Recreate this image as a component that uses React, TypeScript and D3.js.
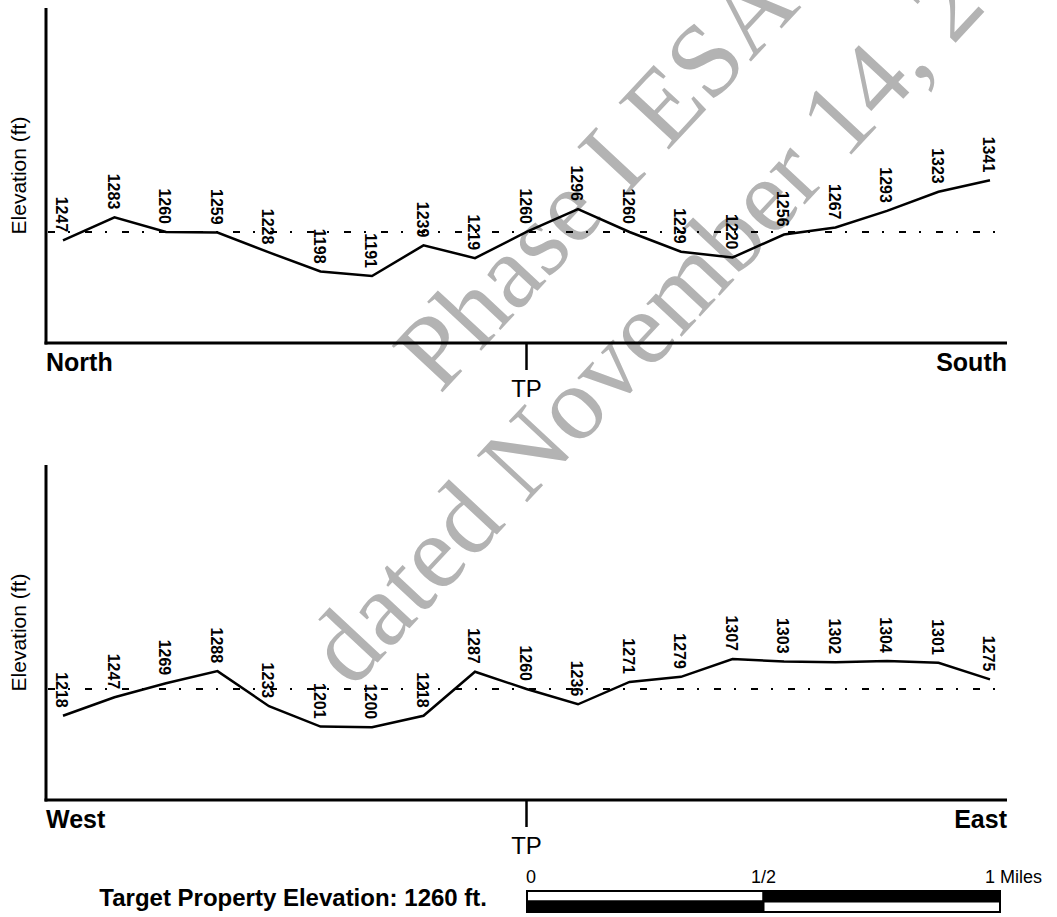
import React from "react";
import * as d3 from "d3";

const northSouth = [1247, 1283, 1260, 1259, 1228, 1198, 1191, 1239, 1219, 1260, 1296, 1260, 1229, 1220, 1256, 1267, 1293, 1323, 1341];
const westEast = [1218, 1247, 1269, 1288, 1233, 1201, 1200, 1218, 1287, 1260, 1236, 1271, 1279, 1307, 1303, 1302, 1304, 1301, 1275];
const targetElevation = 1260;
const elevationDomain = [1086, 1611];
const scaleMiles = [0, 0.5, 1];
const scaleLabels = ["0", "1/2", "1 Miles"];
const watermarkLines = ["Phase I ESA 2023", "dated November 14, 2023"];

const SANS = "'Liberation Sans', Arial, Helvetica, sans-serif";
const SERIF = "'Liberation Serif', 'Times New Roman', serif";

const W = 1057;
const H = 917;

function Profile({ data, top, bottom, startLabel, endLabel }) {
  const x = d3.scaleLinear().domain([0, data.length - 1]).range([63, 990]);
  const y = d3.scaleLinear().domain(elevationDomain).range([bottom, top]);
  const line = d3.line().x((d, i) => x(i)).y((d) => y(d));
  const axisLeft = 46;
  const axisRight = 1007;
  const tpIndex = Math.floor(data.length / 2);
  const tpX = x(tpIndex);
  const yT = y(targetElevation);
  return (
    <g>
      <line x1={axisLeft} x2={axisLeft} y1={top} y2={bottom + 1.5} stroke="#000" strokeWidth={3} />
      <line x1={axisLeft - 1.5} x2={axisRight} y1={bottom} y2={bottom} stroke="#000" strokeWidth={3} />
      <line x1={48} x2={1004} y1={yT} y2={yT} stroke="#000" strokeWidth={2} strokeDasharray="7,13,2,15" />
      <path d={line(data)} fill="none" stroke="#000" strokeWidth={2.5} strokeLinejoin="miter" />
      {data.map((d, i) => (
        <text
          key={i}
          transform={`translate(${x(i) - 7},${y(d) - 8}) rotate(90)`}
          textAnchor="end"
          fontFamily={SANS}
          fontWeight="bold"
          fontSize={16}
          fill="#000"
        >
          {d}
        </text>
      ))}
      <text
        transform={`translate(26,${(top + bottom) / 2}) rotate(-90)`}
        textAnchor="middle"
        fontFamily={SANS}
        fontSize={21}
        fill="#000"
      >
        Elevation (ft)
      </text>
      <text x={axisLeft} y={bottom + 28} fontFamily={SANS} fontWeight="bold" fontSize={25} fill="#000">
        {startLabel}
      </text>
      <text x={axisRight} y={bottom + 28} textAnchor="end" fontFamily={SANS} fontWeight="bold" fontSize={25} fill="#000">
        {endLabel}
      </text>
      <line x1={tpX} x2={tpX} y1={bottom} y2={bottom + 27} stroke="#000" strokeWidth={2.5} />
      <text x={tpX} y={bottom + 54} textAnchor="middle" fontFamily={SANS} fontSize={24} fill="#000">
        TP
      </text>
    </g>
  );
}

function ScaleBar() {
  const sx = d3.scaleLinear().domain([0, 1]).range([527, 1000]);
  const y0 = 891;
  const h = 10.5;
  return (
    <g>
      <rect x={sx(0)} y={y0} width={sx(0.5) - sx(0)} height={h} fill="#fff" stroke="#000" strokeWidth={2} />
      <rect x={sx(0.5)} y={y0} width={sx(1) - sx(0.5)} height={h} fill="#000" stroke="#000" strokeWidth={2} />
      <rect x={sx(0)} y={y0 + h} width={sx(0.5) - sx(0)} height={h} fill="#000" stroke="#000" strokeWidth={2} />
      <rect x={sx(0.5)} y={y0 + h} width={sx(1) - sx(0.5)} height={h} fill="#fff" stroke="#000" strokeWidth={2} />
      {scaleMiles.map((m, i) => {
        const last = i === scaleMiles.length - 1;
        return (
          <text
            key={i}
            x={i === 0 ? sx(m) - 1 : last ? 1042 : sx(m)}
            y={883}
            textAnchor={i === 0 ? "start" : last ? "end" : "middle"}
            fontFamily={SANS}
            fontSize={18}
            fill="#000"
          >
            {scaleLabels[i]}
          </text>
        );
      })}
      <text x={487} y={906} textAnchor="end" fontFamily={SANS} fontWeight="bold" fontSize={24} fill="#000">
        Target Property Elevation: {targetElevation} ft.
      </text>
    </g>
  );
}

export default function App() {
  return (
    <svg
      width={W}
      height={H}
      viewBox={`0 0 ${W} ${H}`}
      style={{ position: "absolute", left: 0, top: 0, background: "#fff" }}
    >
      <rect x={0} y={0} width={W} height={H} fill="#fff" />
      <g fill="#b3b3b3" fontFamily={SERIF} fontSize={105}>
        <text transform="translate(440,395) rotate(-47)">{watermarkLines[0]}</text>
        <text transform="translate(352,690) rotate(-47)">{watermarkLines[1]}</text>
      </g>
      <Profile data={northSouth} top={8} bottom={343} startLabel="North" endLabel="South" />
      <Profile data={westEast} top={465} bottom={800} startLabel="West" endLabel="East" />
      <ScaleBar />
    </svg>
  );
}
